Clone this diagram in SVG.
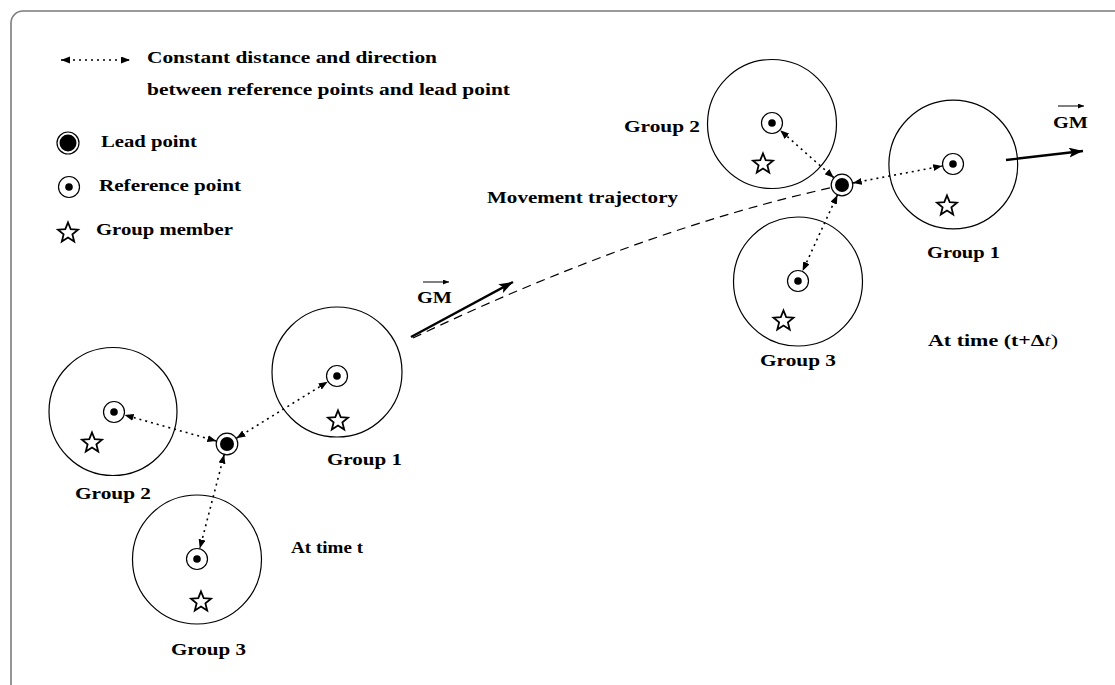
<svg xmlns="http://www.w3.org/2000/svg" width="1115" height="685" viewBox="0 0 1115 685">
  <style>
    text { font-family: "Liberation Serif", "Times New Roman", serif; font-weight: bold; font-size: 17px; fill: #000; }
    .group { fill: none; stroke: #000; stroke-width: 1.2; }
    .ref-ring { fill: #fff; stroke: #000; stroke-width: 1.2; }
    .ref-dot { fill: #000; }
    .lead-ring { fill: #fff; stroke: #000; stroke-width: 1.2; }
    .lead-dot { fill: #000; }
    .member { fill: #fff; stroke: #000; stroke-width: 1.8; stroke-linejoin: miter; }
    .link { fill: none; stroke: #000; stroke-width: 1.6; stroke-dasharray: 2 4; marker-start: url(#tip); marker-end: url(#tip); }
    .gm { fill: none; stroke: #000; stroke-width: 2.4; marker-end: url(#gmTip); }
    .vec { fill: none; stroke: #000; stroke-width: 1; marker-end: url(#vecTip); }
    .path { fill: none; stroke: #000; stroke-width: 1.2; stroke-dasharray: 9 6; }
  </style>
  <defs>
    <marker id="tip" markerUnits="userSpaceOnUse" markerWidth="10" markerHeight="8" refX="9" refY="3.5" orient="auto-start-reverse">
      <path d="M0,0 L9,3.5 L0,7 z" fill="#000"/>
    </marker>
    <marker id="gmTip" markerUnits="userSpaceOnUse" markerWidth="16" markerHeight="12" refX="14" refY="5" orient="auto">
      <path d="M0,0 L14,5 L0,10 L3,5 z" fill="#000"/>
    </marker>
    <marker id="vecTip" markerUnits="userSpaceOnUse" markerWidth="8" markerHeight="6" refX="6" refY="2.5" orient="auto">
      <path d="M0,0 L6,2.5 L0,5 z" fill="#000"/>
    </marker>
    <symbol id="star" overflow="visible">
      <polygon class="member" points="0,-10.5 2.7,-3.8 10,-3.3 4.4,1.4 6.2,8.5 0,4.6 -6.2,8.5 -4.4,1.4 -10,-3.3 -2.7,-3.8"/>
    </symbol>
  </defs>

  <!-- frame -->
  <path d="M11,685 L11,23 A12,12 0 0 1 23,11 L1115,11" fill="none" stroke="#7a7a7a" stroke-width="1.6"/>

  <!-- legend -->
  <g id="legend">
    <line class="link" x1="61" y1="60" x2="130" y2="60"/>
    <text x="147" y="63" textLength="290" lengthAdjust="spacingAndGlyphs">Constant distance and direction</text>
    <text x="147" y="95" textLength="363" lengthAdjust="spacingAndGlyphs">between reference points and lead point</text>
    <circle class="lead-ring" cx="68" cy="143" r="11"/>
    <circle class="lead-dot" cx="68" cy="143" r="8.5"/>
    <text x="101" y="147" textLength="96" lengthAdjust="spacingAndGlyphs">Lead point</text>
    <circle class="ref-ring" cx="69" cy="187" r="10.5"/>
    <circle class="ref-dot" cx="69" cy="187" r="3.8"/>
    <text x="99" y="191" textLength="142" lengthAdjust="spacingAndGlyphs">Reference point</text>
    <use href="#star" x="68" y="233"/>
    <text x="96" y="235" textLength="137" lengthAdjust="spacingAndGlyphs">Group member</text>
  </g>

  <!-- connectors -->
  <g id="connectors">
    <!-- time t -->
    <line class="link" x1="236.4" y1="438.2" x2="327.6" y2="381.8"/>
    <line class="link" x1="216.4" y1="441" x2="124.6" y2="415"/>
    <line class="link" x1="224.2" y1="454.6" x2="199.8" y2="548.4"/>
    <!-- time t + dt -->
    <line class="link" x1="833.8" y1="177.7" x2="780.2" y2="130.3"/>
    <line class="link" x1="852.8" y1="183" x2="942.2" y2="166"/>
    <line class="link" x1="837.4" y1="195" x2="802.6" y2="271"/>
    <!-- trajectory -->
    <path class="path" d="M413,338 Q639,230 834,187"/>
    <!-- group motion vectors -->
    <line class="gm" x1="411" y1="337" x2="513" y2="282"/>
    <line class="gm" x1="1006" y1="160" x2="1083" y2="151"/>
  </g>

  <!-- time t -->
  <g id="t-group1">
    <circle class="group" cx="337" cy="372" r="65"/>
    <circle class="ref-ring" cx="337" cy="376" r="10.5"/>
    <circle class="ref-dot" cx="337" cy="376" r="3.8"/>
    <use href="#star" x="338" y="421"/>
    <text x="327" y="465" textLength="75" lengthAdjust="spacingAndGlyphs">Group 1</text>
  </g>
  <g id="t-group2">
    <circle class="group" cx="113" cy="411.5" r="64"/>
    <circle class="ref-ring" cx="114" cy="412" r="10.5"/>
    <circle class="ref-dot" cx="114" cy="412" r="3.8"/>
    <use href="#star" x="92" y="443"/>
    <text x="75" y="499" textLength="76" lengthAdjust="spacingAndGlyphs">Group 2</text>
  </g>
  <g id="t-group3">
    <circle class="group" cx="197" cy="559.5" r="64.5"/>
    <circle class="ref-ring" cx="197" cy="559" r="10.5"/>
    <circle class="ref-dot" cx="197" cy="559" r="3.8"/>
    <use href="#star" x="201" y="602"/>
    <text x="171" y="655" textLength="75" lengthAdjust="spacingAndGlyphs">Group 3</text>
  </g>
  <g id="t-lead">
    <circle class="lead-ring" cx="227" cy="444" r="10.8"/>
    <circle class="lead-dot" cx="227" cy="444" r="7"/>
  </g>
  <g id="t-label">
    <text x="291" y="553" textLength="72" lengthAdjust="spacingAndGlyphs">At time t</text>
  </g>
  <g id="gm-left">
    <line class="vec" x1="423" y1="282" x2="449" y2="282"/>
    <text x="417" y="303" textLength="35" lengthAdjust="spacingAndGlyphs">GM</text>
  </g>
  <g id="trajectory-label">
    <text x="487" y="203" textLength="191" lengthAdjust="spacingAndGlyphs">Movement trajectory</text>
  </g>

  <!-- time t + dt -->
  <g id="dt-group2">
    <circle class="group" cx="772" cy="124" r="64.5"/>
    <circle class="ref-ring" cx="772" cy="123" r="10.5"/>
    <circle class="ref-dot" cx="772" cy="123" r="3.8"/>
    <use href="#star" x="763" y="164"/>
    <text x="624" y="132" textLength="76" lengthAdjust="spacingAndGlyphs">Group 2</text>
  </g>
  <g id="dt-group1">
    <circle class="group" cx="953.3" cy="164.5" r="64.4"/>
    <circle class="ref-ring" cx="953" cy="164" r="10.5"/>
    <circle class="ref-dot" cx="953" cy="164" r="3.8"/>
    <use href="#star" x="947" y="206"/>
    <text x="927" y="258" textLength="73" lengthAdjust="spacingAndGlyphs">Group 1</text>
  </g>
  <g id="dt-group3">
    <circle class="group" cx="798" cy="281.5" r="64.5"/>
    <circle class="ref-ring" cx="798" cy="281" r="10.5"/>
    <circle class="ref-dot" cx="798" cy="281" r="3.8"/>
    <use href="#star" x="783.5" y="321"/>
    <text x="760" y="366" textLength="76" lengthAdjust="spacingAndGlyphs">Group 3</text>
  </g>
  <g id="dt-lead">
    <circle class="lead-ring" cx="842" cy="185" r="10.8"/>
    <circle class="lead-dot" cx="842" cy="185" r="7"/>
  </g>
  <g id="dt-label">
    <text x="928" y="346" textLength="130" lengthAdjust="spacingAndGlyphs">At time (t+Δ<tspan font-style="italic" font-weight="normal">t</tspan><tspan font-weight="normal">)</tspan></text>
  </g>
  <g id="gm-right">
    <line class="vec" x1="1058" y1="106" x2="1084" y2="106"/>
    <text x="1053" y="128" textLength="35" lengthAdjust="spacingAndGlyphs">GM</text>
  </g>
</svg>
